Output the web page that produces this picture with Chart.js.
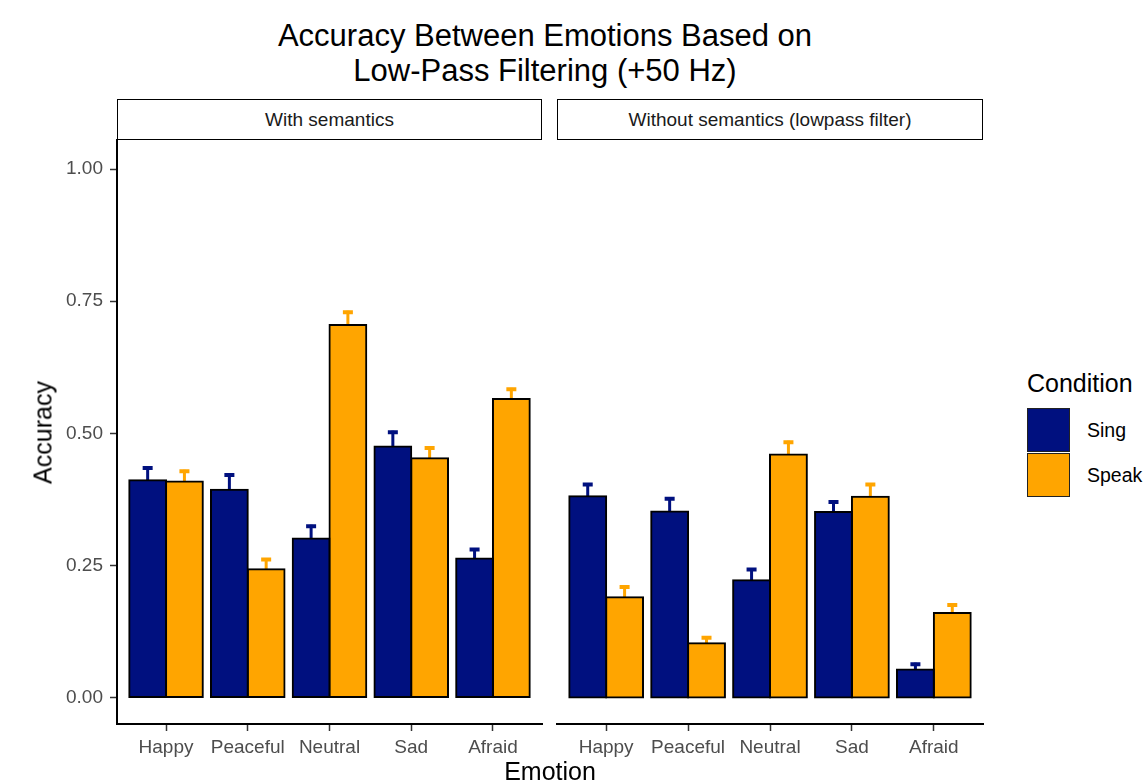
<!DOCTYPE html>
<html>
<head>
<meta charset="utf-8">
<script src="https://cdn.jsdelivr.net/npm/chart.js@4"></script>
<style>
  body{margin:0;background:#fff;font-family:"Liberation Sans",Arial,sans-serif;}
  #wrap{position:relative;width:1146px;height:783px;overflow:hidden;}
  .t{position:absolute;line-height:1;white-space:nowrap;}
  .strip{position:absolute;top:99px;height:41px;box-sizing:border-box;border:1.5px solid #000;
    font-size:19px;color:#1a1a1a;text-align:center;line-height:39px;}
  .key{position:absolute;left:1027px;width:43px;height:44px;box-sizing:border-box;border:1.5px solid #222;}
  canvas{position:absolute;}
</style>
</head>
<body>
<div id="wrap">
  <div class="t" style="left:0;width:1090px;text-align:center;top:20px;font-size:31px;color:#000">Accuracy Between Emotions Based on</div>
  <div class="t" style="left:0;width:1090px;text-align:center;top:55px;font-size:31px;color:#000">Low-Pass Filtering (+50 Hz)</div>
  <div class="strip" style="left:117px;width:425px">With semantics</div>
  <div class="strip" style="left:557px;width:426px">Without semantics (lowpass filter)</div>
  <div style="position:absolute;left:0;top:120px;width:560px;height:663px"><canvas id="withChart" width="560" height="663"></canvas></div>
  <div style="position:absolute;left:545px;top:120px;width:460px;height:663px"><canvas id="lowChart" width="460" height="663"></canvas></div>
  <div class="t" style="left:-57px;top:420px;width:200px;text-align:center;font-size:25px;color:#000;transform:rotate(-90deg)">Accuracy</div>
  <div class="t" style="left:450px;width:200px;text-align:center;top:759px;font-size:25px;color:#000">Emotion</div>
  <div class="t" style="left:1027px;top:371px;font-size:25px;color:#000">Condition</div>
  <div class="key" style="top:408px;background:#00107f"></div>
  <div class="key" style="top:453px;background:#ffa500"></div>
  <div class="t" style="left:1087px;top:421px;font-size:19.5px;color:#000">Sing</div>
  <div class="t" style="left:1087px;top:466px;font-size:19.5px;color:#000">Speak</div>
</div>
<script>
const emotions = ['Happy','Peaceful','Neutral','Sad','Afraid'];
const yTicks = [0, 0.25, 0.5, 0.75, 1];
// with semantics
const withSing = [0.411, 0.393, 0.301, 0.475, 0.263];
const withSpeak = [0.409, 0.243, 0.705, 0.453, 0.565];
const withSingSe = [0.026, 0.031, 0.026, 0.030, 0.020];
const withSpeakSe = [0.022, 0.021, 0.027, 0.022, 0.021];
// without semantics (lowpass)
const lowSing = [0.381, 0.352, 0.222, 0.351, 0.053];
const lowSpeak = [0.190, 0.103, 0.460, 0.380, 0.160];
const lowSingSe = [0.025, 0.027, 0.023, 0.022, 0.013];
const lowSpeakSe = [0.022, 0.013, 0.026, 0.026, 0.018];

const SING = '#00107f', SPEAK = '#ffa500';

const errorBars = {
  id: 'errorBars',
  beforeDatasetsDraw(chart){
    const ctx = chart.ctx, y = chart.scales.y;
    chart.data.datasets.forEach((ds, di)=>{
      chart.getDatasetMeta(di).data.forEach((bar, i)=>{
        const v = ds.data[i].y, se = ds.se[i];
        const top = y.getPixelForValue(v + se), bot = y.getPixelForValue(v - se);
        ctx.save();
        ctx.strokeStyle = ds.backgroundColor; ctx.lineWidth = 3;
        ctx.beginPath();
        ctx.moveTo(bar.x, top); ctx.lineTo(bar.x, bot);
        ctx.stroke();
        ctx.lineWidth = 4;
        ctx.beginPath();
        ctx.moveTo(bar.x-5, top+1.5); ctx.lineTo(bar.x+5, top+1.5);
        ctx.moveTo(bar.x-5, bot-1.5); ctx.lineTo(bar.x+5, bot-1.5);
        ctx.stroke();
        ctx.restore();
      });
    });
  }
};

function pts(vals){ return vals.map((v,i)=>({x:i, y:v})); }

function makeFacet(ctx, sing, speak, singSe, speakSe, showY, pad){
  const bar = {borderColor:'#000', borderWidth:2, borderSkipped:false, inflateAmount:1,
    categoryPercentage:0.9, barPercentage:1};
  return new Chart(ctx, {
    type:'bar',
    data:{ datasets:[
      Object.assign({label:'Sing', data:pts(sing), se:singSe, backgroundColor:SING}, bar),
      Object.assign({label:'Speak', data:pts(speak), se:speakSe, backgroundColor:SPEAK}, bar)
    ]},
    options:{
      responsive:false, animation:false,
      layout:{padding:pad},
      plugins:{legend:{display:false}, tooltip:{enabled:false}},
      scales:{
        x:{type:'linear', min:-0.6, max:4.6, offset:false,
          grid:{offset:false, drawOnChartArea:false, tickLength:7, tickColor:'#333', tickWidth:1.5},
          border:{display:true, color:'#000', width:2},
          ticks:{stepSize:1, includeBounds:false, padding:5, color:'#4d4d4d', maxRotation:0, autoSkip:false,
            font:{family:'Liberation Sans', size:19},
            callback:v=>emotions[v] ?? ''},
          afterFit:s=>{ s.height = 59; }},
        y:{display:showY, min:-0.05, max:1.055,
          grid:{drawOnChartArea:false, tickLength:7, tickColor:'#333', tickWidth:1.5},
          border:{display:true, color:'#000', width:2},
          afterBuildTicks:s=>{ s.ticks = yTicks.map(v=>({value:v})); },
          ticks:{padding:7, color:'#4d4d4d', font:{family:'Liberation Sans', size:19},
            callback:v=>v.toFixed(2)},
          afterFit:s=>{ if (showY) s.width = 117; }}
      }
    },
    plugins:[errorBars]
  });
}

window.addEventListener('DOMContentLoaded', ()=>{
  makeFacet(document.getElementById('withChart'), withSing, withSpeak, withSingSe, withSpeakSe, true,
    {top:20, right:18, left:0, bottom:0});
  makeFacet(document.getElementById('lowChart'), lowSing, lowSpeak, lowSingSe, lowSpeakSe, false,
    {top:20, right:22, left:12, bottom:0});
});
</script>
</body>
</html>
